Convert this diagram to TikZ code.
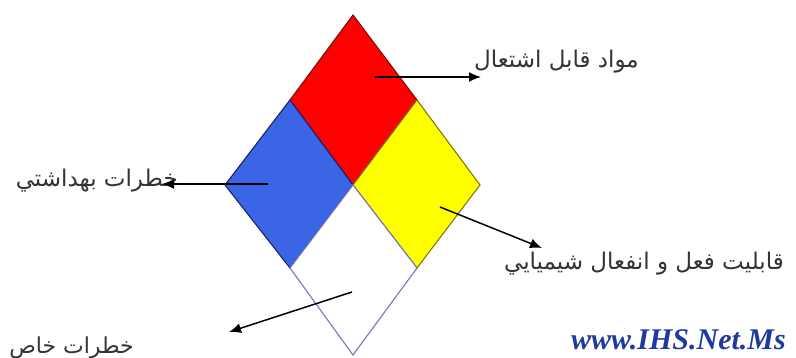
\documentclass[tikz,border=0pt]{standalone}
\usepackage{fontspec}
\setmainfont{Liberation Serif}
\newfontfamily\arabicfont[Script=Arabic]{DejaVu Sans}
\TeXXeTstate=1
\usetikzlibrary{positioning,arrows.meta}
\definecolor{nfRed}{HTML}{FF0000}
\definecolor{nfRedEdge}{HTML}{7A1010}
\definecolor{nfBlue}{HTML}{3A66E6}
\definecolor{nfBlueEdge}{HTML}{1C1F70}
\definecolor{nfYellow}{HTML}{FFFF00}
\definecolor{nfYellowEdge}{HTML}{807A10}
\definecolor{nfWhiteEdge}{HTML}{7A74C2}
\definecolor{nfText}{HTML}{333333}
\definecolor{nfMark}{HTML}{1E3AA0}

\begin{document}
\begin{tikzpicture}[
    x=1pt, y=-1pt,
    cell/.style={line width=1.1pt, line join=miter},
    lab/.style={font=\arabicfont\fontsize{23}{25}\selectfont, text=nfText, inner sep=0pt},
    pointer/.style={line width=1.5pt, -{Latex[length=12pt,width=10pt]}},
    sitemark/.style={font=\bfseries\itshape\fontsize{30}{32}\selectfont, text=nfMark, inner sep=0pt}
  ]
  \useasboundingbox (0,0) rectangle (796,358);

  % the four cells of the diamond
  \draw[cell, draw=nfRedEdge, fill=nfRed] (353,15) -- (417,100) -- (353,185) -- (290,100) -- cycle;
  \draw[cell, draw=nfBlueEdge, fill=nfBlue] (290,100) -- (353,185) -- (290,268) -- (225,185) -- cycle;
  \draw[cell, draw=nfYellowEdge, fill=nfYellow] (417,100) -- (480,185) -- (417,268) -- (353,185) -- cycle;
  \draw[cell, draw=nfWhiteEdge, fill=white] (353,185) -- (417,268) -- (353,355) -- (290,268) -- cycle;

  % labels
  \node[lab, anchor=east] (fire) at (639,62) {\beginR مواد قابل اشتعال\endR};
  \node[lab, anchor=east] (health) at (178,181) {\beginR خطرات بهداشتي\endR};
  \node[lab, anchor=east] (react) at (784,264) {\beginR قابليت فعل و انفعال شيميايي\endR};
  \node[lab, anchor=east, font=\arabicfont\fontsize{22}{24}\selectfont] (special) at (134,348) {\beginR خطرات خاص\endR};
  \node[sitemark, anchor=east] (site) at (786,340) {www.IHS.Net.Ms};

  % pointers
  \coordinate (inRed) at (375,77);
  \coordinate (outRed) at (481,77);
  \coordinate (inBlue) at (268,184);
  \coordinate (outBlue) at (162,184);
  \coordinate (inYellow) at (440,207);
  \coordinate (outYellow) at (542,248);
  \coordinate (inWhite) at (352,292);
  \coordinate (outWhite) at (229,332);

  \draw[pointer] (inRed) -- (outRed);
  \draw[pointer] (inBlue) -- (outBlue);
  \draw[pointer] (inYellow) -- (outYellow);
  \draw[pointer] (inWhite) -- (outWhite);
\end{tikzpicture}
\end{document}
